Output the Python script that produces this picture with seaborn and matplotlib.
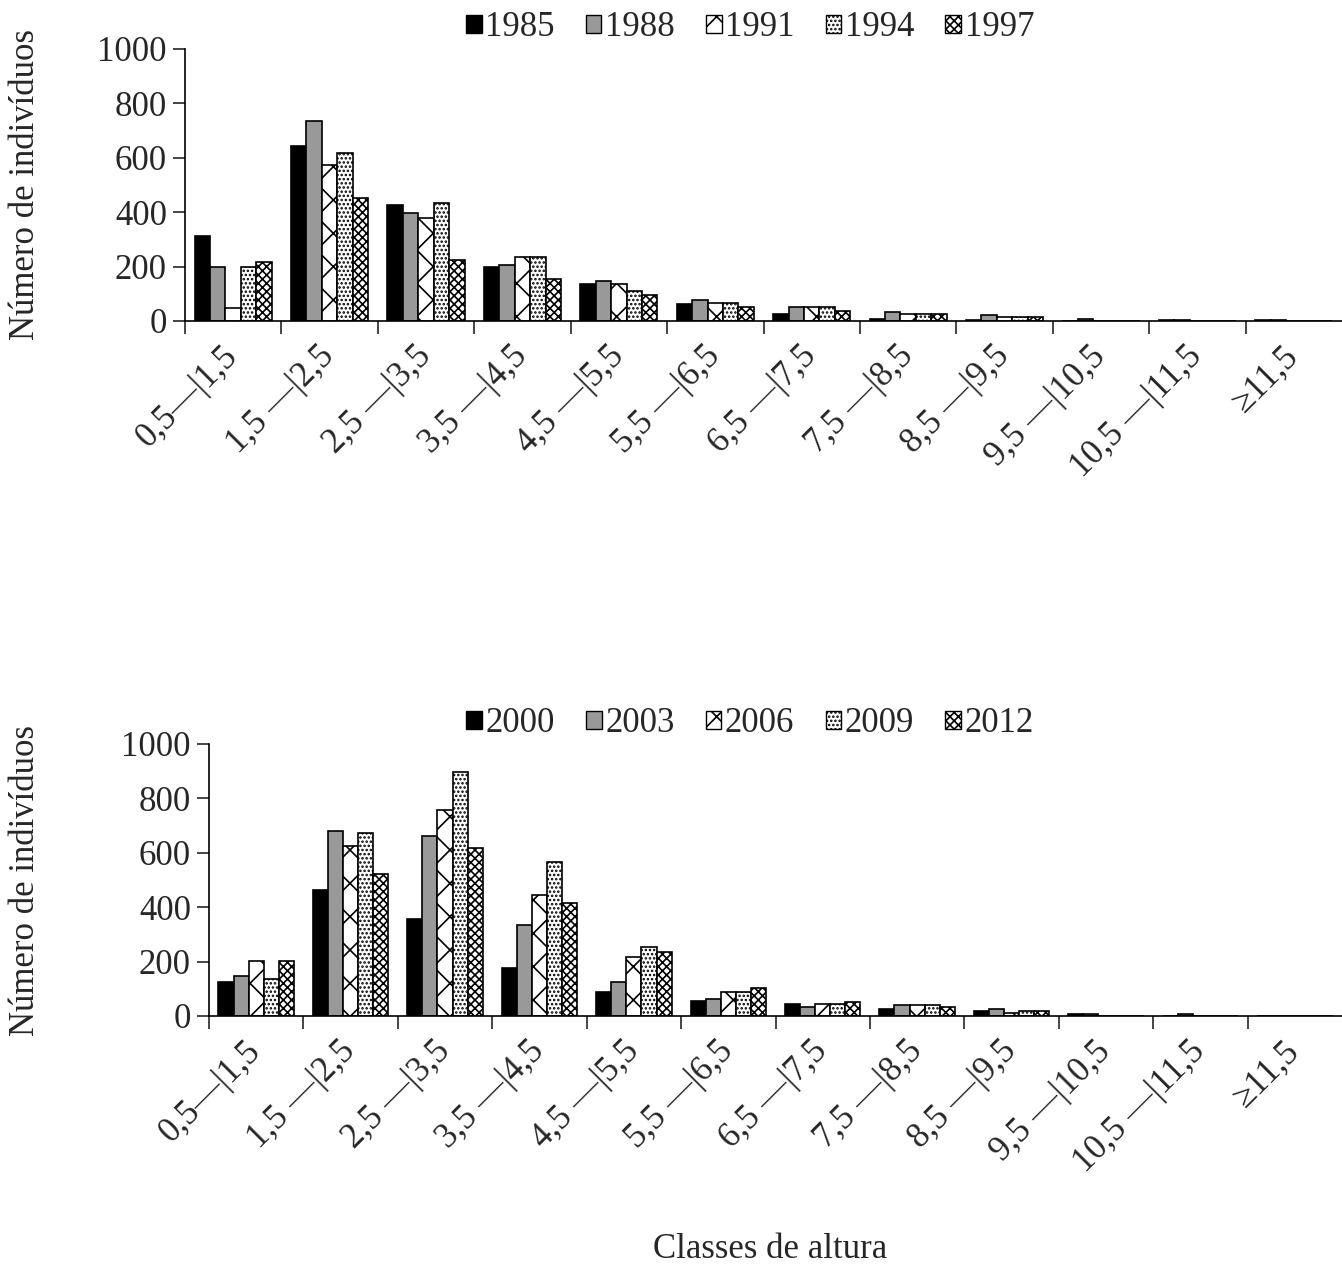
import numpy as np
import pandas as pd
import seaborn as sns
import matplotlib.pyplot as plt
import matplotlib.patches as mpatches

# classes de altura (eixo x)
classes = ['0,5—|1,5', '1,5 —|2,5', '2,5 —|3,5', '3,5 —|4,5', '4,5 —|5,5', '5,5 —|6,5',
           '6,5 —|7,5', '7,5 —|8,5', '8,5 —|9,5', '9,5 —|10,5', '10,5 —|11,5', '≥11,5']

# painel de cima
anos_top = ['1985', '1988', '1991', '1994', '1997']
v1985 = [313, 644, 426, 199, 137, 61, 25, 9, 5, 0, 5, 5]
v1988 = [199, 736, 396, 206, 146, 77, 51, 34, 22, 6, 5, 5]
v1991 = [49, 574, 380, 234, 137, 65, 51, 25, 13, 0, 0, 0]
v1994 = [199, 616, 433, 234, 110, 67, 51, 25, 13, 0, 0, 0]
v1997 = [216, 451, 225, 155, 94, 51, 35, 25, 13, 0, 0, 0]

# painel de baixo
anos_bot = ['2000', '2003', '2006', '2009', '2012']
v2000 = [125, 463, 357, 176, 88, 54, 44, 26, 17, 6, 0, 0]
v2003 = [148, 680, 660, 333, 124, 61, 32, 42, 24, 6, 6, 0]
v2006 = [201, 626, 757, 444, 218, 88, 44, 42, 12, 0, 0, 0]
v2009 = [137, 671, 896, 567, 252, 88, 44, 42, 20, 0, 0, 0]
v2012 = [201, 523, 618, 417, 234, 104, 53, 34, 20, 0, 0, 0]

# estilo de cada serie (cor + hachura)
faces = ['black', '#999999', 'white', 'white', 'white']
hatches = [None, None, 'x', '....', 'xxxx']

sns.set_style('white')
plt.rcParams['font.family'] = ['Liberation Serif', 'DejaVu Serif']
plt.rcParams['hatch.linewidth'] = 1.2
FS = 25

W, H = 1342, 1274
fig = plt.figure(figsize=(W / 100, H / 100), dpi=100)


def painel(rect, anos, series, ylabel_x, leg_xy):
    ax = fig.add_axes(rect)
    df = pd.DataFrame({
        'classe': np.tile(classes, len(anos)),
        'ano': np.repeat(anos, len(classes)),
        'n': np.concatenate(series),
    })
    sns.barplot(data=df, x='classe', y='n', hue='ano', order=classes, hue_order=anos,
                palette=dict(zip(anos, faces)), saturation=1, width=0.8,
                edgecolor='black', linewidth=1.2, legend=False, ax=ax)
    for cont, h in zip(ax.containers, hatches):
        for p in cont:
            p.set_hatch(h)

    ax.set_xlim(-0.5, len(classes) - 0.5)
    ax.set_ylim(0, 1000)
    ax.set_yticks(range(0, 1001, 200))
    ax.set_xticks(np.arange(-0.5, len(classes) - 0.5, 1))
    ax.set_xticklabels([])
    ax.set_xticks(np.arange(len(classes)), minor=True)
    ax.set_xticklabels(classes, minor=True, rotation=45, ha='right', va='center',
                       rotation_mode='anchor', fontsize=FS)
    ax.tick_params(axis='x', which='major', length=9, width=1.2, direction='out', bottom=True)
    ax.tick_params(axis='x', which='minor', length=0, pad=22)
    ax.tick_params(axis='y', length=9, width=1.2, direction='out', left=True, labelsize=FS, pad=4)
    sns.despine(ax=ax)
    for s in ('left', 'bottom'):
        ax.spines[s].set_linewidth(1.2)
        ax.spines[s].set_color('black')
    ax.set_xlabel('')
    ax.set_ylabel('Número de indivíduos', fontsize=FS)
    ax.yaxis.set_label_coords(ylabel_x, 0.5)

    handles = [mpatches.Patch(facecolor=f, edgecolor='black', hatch=h, linewidth=1)
               for f, h in zip(faces, hatches)]
    fig.legend(handles, anos, loc='center', bbox_to_anchor=leg_xy, ncol=5, frameon=False,
               fontsize=FS, handlelength=0.45, handleheight=0.45, handletextpad=0.1,
               columnspacing=0.9, borderaxespad=0)
    return ax


painel([185 / W, 1 - 321 / H, 1157 / W, 272 / H], anos_top,
       [v1985, v1988, v1991, v1994, v1997], -0.124, (750 / W, 1 - 28 / H))
painel([209 / W, 1 - 1016 / H, 1133 / W, 272 / H], anos_bot,
       [v2000, v2003, v2006, v2009, v2012], -0.147, (750 / W, 1 - 724 / H))

fig.text(770 / W, 1 - 1250 / H, 'Classes de altura', ha='center', va='center', fontsize=FS)

fig.savefig('out.png', dpi=100)
